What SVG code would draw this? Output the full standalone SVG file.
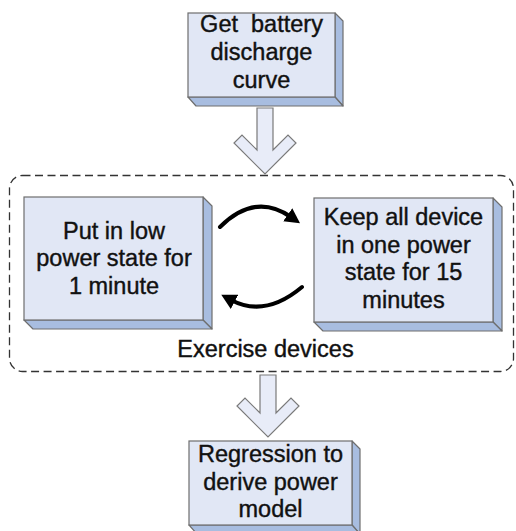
<svg xmlns="http://www.w3.org/2000/svg" width="516" height="531" viewBox="0 0 516 531">
<style>
.front{fill:#e1e7f5;stroke:#6e6e6e;stroke-width:1.2}
.bevel{fill:#a8bde0;stroke:#6e6e6e;stroke-width:1.2;stroke-linejoin:round}
.t{font-family:"Liberation Sans",Arial,sans-serif;font-size:23.5px;fill:#111;stroke:#111;stroke-width:0.4;text-anchor:middle}
.blk{fill:#e8ecf8;stroke:#7a7a7a;stroke-width:1.2;stroke-linejoin:miter}
.curve{fill:none;stroke:#000;stroke-width:4;stroke-linecap:round}
</style>
<defs>
<marker id="ah" markerUnits="userSpaceOnUse" markerWidth="18" markerHeight="16" refX="4" refY="8" orient="auto">
<path d="M0,0 L15,8 L0,16 z" fill="#000"/>
</marker>
</defs>
<rect x="9.5" y="175.5" width="504" height="196" rx="13" fill="none" stroke="#333" stroke-width="1.3" stroke-dasharray="8,4.5"/>
<g id="n1">
<polygon class="bevel" points="335,13 343,21 343,106 335,97"/>
<polygon class="bevel" points="188,97 335,97 343,106 196,106"/>
<rect class="front" x="188" y="13" width="147" height="84"/>
<text class="t" xml:space="preserve"><tspan x="261.5" y="32">Get  battery</tspan><tspan x="261.5" y="60">discharge</tspan><tspan x="261.5" y="88">curve</tspan></text>
</g>
<g id="n2">
<polygon class="bevel" points="203,197 212,206 212,329 203,320"/>
<polygon class="bevel" points="24,320 203,320 212,329 33,329"/>
<rect class="front" x="24" y="197" width="179" height="123"/>
<text class="t"><tspan x="114" y="238.5">Put in low</tspan><tspan x="114" y="266">power state for</tspan><tspan x="114" y="293.5">1 minute</tspan></text>
</g>
<g id="n3">
<polygon class="bevel" points="493,198 502,207 502,331 493,322"/>
<polygon class="bevel" points="314,322 493,322 502,331 323,331"/>
<rect class="front" x="314" y="198" width="179" height="124"/>
<text class="t"><tspan x="403.5" y="225">Keep all device</tspan><tspan x="403.5" y="252.7">in one power</tspan><tspan x="403.5" y="280.3">state for 15</tspan><tspan x="403.5" y="308">minutes</tspan></text>
</g>
<g id="n4">
<polygon class="bevel" points="352,441 360,449 360,534 352,525"/>
<polygon class="bevel" points="189,525 352,525 360,534 197,534"/>
<rect class="front" x="189" y="441" width="163" height="84"/>
<text class="t"><tspan x="270.5" y="462">Regression to</tspan><tspan x="270.5" y="490">derive power</tspan><tspan x="270.5" y="517">model</tspan></text>
</g>
<g id="label">
<text class="t" x="265.5" y="357">Exercise devices</text>
</g>
<g id="connectors">
<polygon class="blk" points="257,108 273,108 273,150 288,135 296,143 265,174 234,143 242,135 257,150"/>
<polygon class="blk" points="260,375 276,375 276,413 291,398 299,406 268,437 237,406 245,398 260,413"/>
<path class="curve" d="M220,227 Q255,192 291,217" marker-end="url(#ah)"/>
<path class="curve" d="M302,287 Q265,318 231,300" marker-end="url(#ah)"/>
</g>
</svg>
